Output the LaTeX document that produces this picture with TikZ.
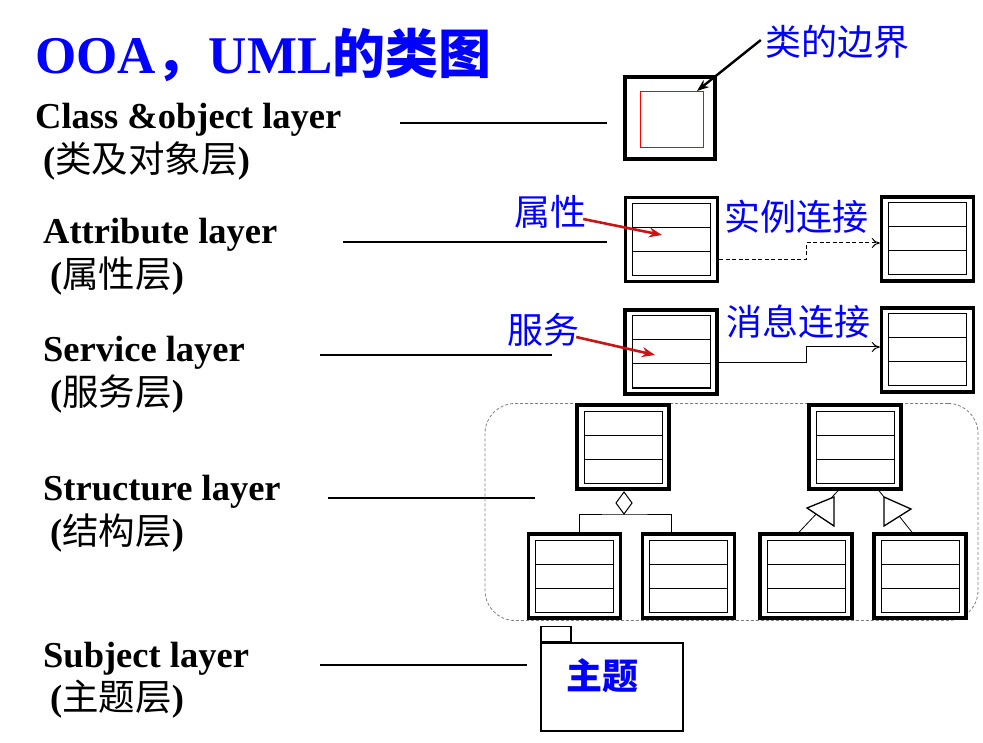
\documentclass[tikz,border=0pt]{standalone}
\usepackage{fontspec}
\setmainfont{Liberation Serif}
\newfontfamily\cjk{Noto Sans CJK SC}
\usetikzlibrary{arrows.meta}
\definecolor{lblblue}{RGB}{0,0,255}
\definecolor{arrred}{RGB}{205,20,20}
\tikzset{
  classbox/.style={draw, line width=3.5pt, minimum width=92pt, minimum height=84pt, inner sep=0pt,
    path picture={
      \begin{scope}[line width=1pt]
        \draw ([shift={(7pt,-6pt)}]path picture bounding box.north west) rectangle ([shift={(-7pt,6pt)}]path picture bounding box.south east);
        \draw ([shift={(7pt,-30pt)}]path picture bounding box.north west) -- ([shift={(-7pt,-30pt)}]path picture bounding box.north east);
        \draw ([shift={(7pt,30pt)}]path picture bounding box.south west) -- ([shift={(-7pt,30pt)}]path picture bounding box.south east);
      \end{scope}}},
  objbox/.style={draw, line width=3.8pt, minimum width=90pt, minimum height=82pt, inner sep=0pt,
    path picture={
      \draw[red, line width=0.9pt] ([shift={(15pt,-14pt)}]path picture bounding box.north west) rectangle ([shift={(-12pt,12pt)}]path picture bounding box.south east);}},
  layertxt/.style={anchor=base west, inner sep=0pt, font=\fontsize{36.5}{44}\selectfont\bfseries},
  bluelbl/.style={inner sep=0pt, text=lblblue, font=\fontsize{36}{40}\selectfont\cjk},
  leader/.style={line width=1.4pt},
  redarrow/.style={arrred, line width=2.6pt, -{Stealth[length=13pt,width=10pt]}},
  link/.style={line width=1pt, -{To[length=8pt,width=10pt]}},
  strframe/.style={draw=gray, dash pattern=on 3pt off 2pt, line width=0.8pt, rounded corners=30pt, minimum width=493pt, minimum height=217pt},
  pkgbox/.style={draw, line width=1.2pt, inner sep=0pt}
}
\begin{document}
\begin{tikzpicture}[x=1pt, y=-1pt]
  \useasboundingbox (0,0) rectangle (983,743);

  % title
  \node (title) [anchor=base west, inner sep=0pt, text=lblblue, font=\fontsize{53}{60}\selectfont\bfseries] at (35,74) {OOA{\cjk ，}UML{\cjk 的类图}};

  % layer names
  \node (clsname) [layertxt] at (35,129) {Class \&object layer};
  \node (clscn) [layertxt] at (43,173) {({\cjk\mdseries 类及对象层})};
  \node (attrname) [layertxt] at (43,244) {Attribute layer};
  \node (attrcn) [layertxt] at (50,288) {({\cjk\mdseries 属性层})};
  \node (servname) [layertxt] at (43,362) {Service layer};
  \node (servcn) [layertxt] at (50,406) {({\cjk\mdseries 服务层})};
  \node (strname) [layertxt] at (43,500) {Structure layer};
  \node (strcn) [layertxt] at (50,544) {({\cjk\mdseries 结构层})};
  \node (subjname) [layertxt] at (43,667) {Subject layer};
  \node (subjcn) [layertxt] at (50,710) {({\cjk\mdseries 主题层})};

  % leader lines
  \coordinate (clsL) at (400,123);  \coordinate (clsR) at (607,123);
  \coordinate (attrL) at (343,242); \coordinate (attrR) at (607,242);
  \coordinate (servL) at (320,355); \coordinate (servR) at (552,355);
  \coordinate (strL) at (328,498);  \coordinate (strR) at (535,498);
  \coordinate (subjL) at (320,665); \coordinate (subjR) at (527,665);
  \draw[leader] (clsL) -- (clsR);
  \draw[leader] (attrL) -- (attrR);
  \draw[leader] (servL) -- (servR);
  \draw[leader] (strL) -- (strR);
  \draw[leader] (subjL) -- (subjR);

  % class & object layer
  \node (clsobj) [objbox] at (670,118) {};
  \node (bndlbl) [bluelbl] at (837,42) {类的边界};
  \coordinate (bndtip) at (697,91);
  \draw[line width=2.4pt, -{Stealth[length=12pt,width=9pt]}] ([shift={(-4pt,2pt)}]bndlbl.west) -- (bndtip);

  % attribute layer
  \node (attrA) [classbox] at (671.5,239.5) {};
  \node (attrB) [classbox] at (927.5,239) {};
  \node (attrlbl) [bluelbl] at (550,212) {属性};
  \node (instlbl) [bluelbl] at (796,217) {实例连接};
  \coordinate (attrtip) at (662,235);
  \draw[redarrow] ([shift={(-3pt,-7pt)}]attrlbl.east) -- (attrtip);
  \draw[link, dash pattern=on 4pt off 2.5pt] ([yshift=-20pt]attrA.east) -- ++(87,0) |- ([yshift=-4pt]attrB.west);

  % service layer
  \node (servA) [classbox] at (671,352) {};
  \node (servB) [classbox] at (927.5,350) {};
  \node (servlbl) [bluelbl] at (543,330) {服务};
  \node (msglbl) [bluelbl] at (798,322) {消息连接};
  \coordinate (servtip) at (655,355);
  \draw[redarrow] ([shift={(-3pt,-7pt)}]servlbl.east) -- (servtip);
  \draw[link] ([yshift=-11pt]servA.east) -- ++(88,0) |- ([yshift=3pt]servB.west);

  % structure layer
  \node (frame) [strframe] at (731.5,512) {};
  \node (strTopL) [classbox] at (623,447) {};
  \node (strTopR) [classbox] at (855,447) {};
  \node (strBotA) [classbox] at (574.5,576) {};
  \node (strBotB) [classbox] at (688.5,576) {};
  \node (strBotC) [classbox] at (806,576) {};
  \node (strBotD) [classbox] at (920,576) {};
  % aggregation
  \coordinate (aggT) at (624,492);
  \coordinate (aggB) at (624,514);
  \draw[line width=1pt] (aggT) -- (632,503) -- (aggB) -- (616,503) -- cycle;
  \draw[line width=1pt] ([xshift=4.5pt]strBotA.north) |- (aggB) -| ([xshift=-17.5pt]strBotB.north);
  % generalization
  \draw[line width=0.8pt] ([xshift=-7pt]strBotC.north) -- ([xshift=-17pt]strTopR.south);
  \draw[line width=0.8pt] ([xshift=24pt]strTopR.south) -- ([xshift=-8pt]strBotD.north);
  \filldraw[fill=white, line width=1.3pt] (807,508) -- (834,497) -- (834,526) -- cycle;
  \filldraw[fill=white, line width=1.3pt] (884,497) -- (911,509) -- (884,526) -- cycle;

  % subject layer
  \node (pkgbody) [pkgbox, minimum width=142pt, minimum height=88pt] at (612,687) {};
  \node (pkgtab) [pkgbox, minimum width=30pt, minimum height=15pt, anchor=south west] at (pkgbody.north west) {};
  \node (subjlbl) [bluelbl, font=\fontsize{36}{40}\selectfont\cjk\bfseries] at (602,676) {主题};
\end{tikzpicture}
\end{document}
